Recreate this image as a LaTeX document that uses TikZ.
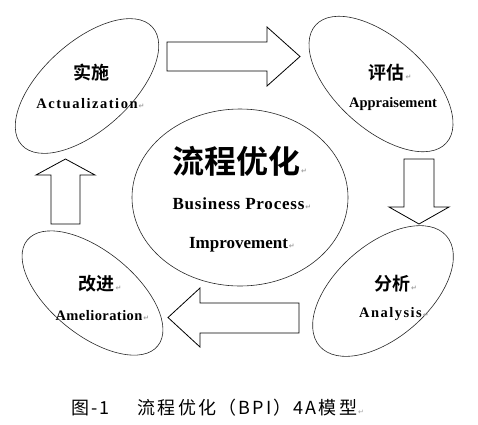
\documentclass[tikz,border=0pt]{standalone}
\usepackage{fontspec}
\usetikzlibrary{shapes.geometric}
\setmainfont{Liberation Serif}
\newfontfamily\cjk{Noto Sans CJK SC}[BoldFont={Noto Sans CJK SC Bold}]
\newfontfamily\capfont{Noto Sans CJK SC}[LetterSpace=12]
\newfontfamily\latf{Liberation Serif}
\newfontfamily\symf{DejaVu Sans}
\definecolor{markgray}{RGB}{160,160,160}
\newcommand\retm{\hspace{1pt}{\symf\fontsize{7pt}{8pt}\selectfont\color{markgray}↵}}
\newcommand\lsp[1]{\addfontfeatures{LetterSpace=#1}}
\begin{document}
\begin{tikzpicture}[x=1pt,y=-1pt,
  oval/.style={draw=black!85, line width=0.6pt, ellipse, inner sep=0pt},
  blockarrow/.style={draw=black, line width=0.8pt, fill=white, line join=miter},
  cn/.style={inner sep=0pt, font=\cjk\bfseries\fontsize{18pt}{20pt}\selectfont},
  cnbig/.style={inner sep=0pt, font=\cjk\bfseries\fontsize{32pt}{34pt}\selectfont},
  en/.style={inner sep=0pt, font=\latf\bfseries\fontsize{14.5pt}{16pt}\selectfont},
  enbig/.style={inner sep=0pt, font=\latf\bfseries\fontsize{17pt}{19pt}\selectfont},
  captext/.style={inner sep=0pt, anchor=west, font=\capfont\fontsize{18pt}{20pt}\selectfont}]
\useasboundingbox (0,0) rectangle (478,424);
% ellipses
\node[oval, minimum width=176pt, minimum height=88pt, rotate=42] (act) at (87,86) {};
\node[oval, minimum width=176pt, minimum height=90pt, rotate=-42] (app) at (381,84) {};
\node[oval, minimum width=168pt, minimum height=93pt, rotate=41] (ana) at (383,291) {};
\node[oval, minimum width=168pt, minimum height=84pt, rotate=-39] (ame) at (92.5,293) {};
\node[oval, minimum width=216pt, minimum height=177pt] (bpi) at (240,197.5) {};
% block arrows
\draw[blockarrow] (167,42) -- (267,42) -- (267,27) -- (300,56.5) -- (267,86) -- (267,71) -- (167,71) -- cycle;
\draw[blockarrow] (404,159) -- (404,207) -- (389,207) -- (419,224) -- (449,207) -- (434,207) -- (434,159) -- cycle;
\draw[blockarrow] (299,303) -- (200,303) -- (200,288) -- (168,317.5) -- (200,347) -- (200,333) -- (299,333) -- cycle;
\draw[blockarrow] (51,224) -- (51,175) -- (36,175) -- (65.5,159) -- (95,175) -- (80,175) -- (80,224) -- cycle;
% labels
\node[cn] (actcn) at (91,73) {实施};
\node[en] (acten) at (87,104) {\lsp{10.5}Actualization\rlap{\retm}};
\node[cn] (appcn) at (386.5,73) {评估\rlap{\retm}};
\node[en] (appen) at (393,104) {Appraisement};
\node[cn] (anacn) at (392,284) {分析\rlap{\retm}};
\node[en] (anaen) at (390.5,314) {\lsp{10}Analysis\rlap{\retm}};
\node[cn] (amecn) at (96.5,284) {改进\rlap{\retm}};
\node[en] (ameen) at (99,316) {\lsp{3}Amelioration\rlap{\retm}};
\node[cnbig] (bpicn) at (236,161) {流程优化\rlap{\retm}};
\node[enbig] (bpien1) at (238.5,204) {\lsp{4.5}Business Process\rlap{\retm}};
\node[enbig] (bpien2) at (238.5,245) {Improvement\rlap{\retm}};
% caption
\node[captext] (caption) at (71,408) {图-1\hspace{28pt}流程优化（BPI）4A模型\rlap{\retm}};
\end{tikzpicture}
\end{document}
